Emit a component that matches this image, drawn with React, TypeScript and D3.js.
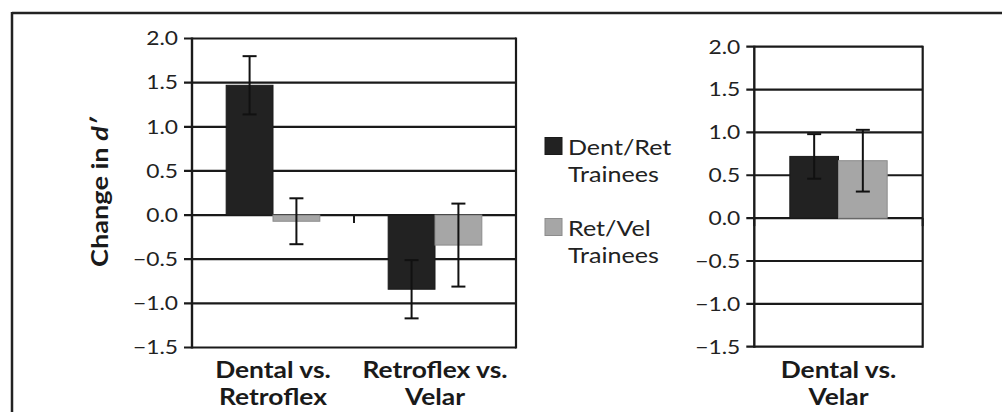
import React from "react";
import * as d3 from "d3";

// values (change in d')
const leftCategories = [["Dental vs.", "Retroflex"], ["Retroflex vs.", "Velar"]];
const rightCategories = [["Dental vs.", "Velar"]];
const seriesNames = [["Dent/Ret", "Trainees"], ["Ret/Vel", "Trainees"]];
const dentRetMeans = [1.47, -0.84, 0.72];
const dentRetErrors = [0.33, 0.33, 0.26];
const retVelMeans = [-0.07, -0.34, 0.67];
const retVelErrors = [0.26, 0.47, 0.36];
const yTicks = [-1.5, -1.0, -0.5, 0.0, 0.5, 1.0, 1.5, 2.0];

const W = 1002;
const H = 412;
const FONT = "Lato, 'Open Sans', sans-serif";
const colors = ["#222222", "#a6a6a6"];
const strokes = ["#1a1a1a", "#8c8c8c"];
const fmt = d3.format(".1f");

// the source figure is a bit wider than tall, so text gets stretched sideways
const stretch = (ax: number, s: number) => `translate(${ax},0) scale(${s},1) translate(${-ax},0)`;

type PanelProps = {
  cats: string[][];
  offset: number;
  x0: number;
  x1: number;
  yTop: number;
  yBottom: number;
};

function Panel({ cats, offset, x0, x1, yTop, yBottom }: PanelProps) {
  const keys = cats.map((c) => c.join(" "));
  const y = d3.scaleLinear().domain([-1.5, 2.0]).range([yBottom, yTop]);
  const x = d3.scaleBand().domain(keys).range([x0, x1]).padding(0);
  const xs = d3.scaleBand().domain(["a", "b"]).range([0, x.bandwidth()]).paddingInner(0).paddingOuter(0.73);
  const y0 = y(0);
  const lx = x0 - 14;

  const bars = keys.flatMap((k, i) => [
    { k, s: "a", si: 0, v: dentRetMeans[offset + i], e: dentRetErrors[offset + i] },
    { k, s: "b", si: 1, v: retVelMeans[offset + i], e: retVelErrors[offset + i] },
  ]);
  const bounds = keys.map((k) => x(k)!).concat([x1]);

  return (
    <g>
      {yTicks.map((t) => (
        <g key={t}>
          <line x1={x0 - 8} x2={x1} y1={y(t)} y2={y(t)} stroke="#1a1a1a" strokeWidth={2.2} />
          <text x={lx} y={y(t)} dy="0.36em" textAnchor="end" fontSize={19} fill="#222" fontFamily={FONT}
            transform={stretch(lx, 1.2)}>
            {fmt(t)}
          </text>
        </g>
      ))}
      {bars.map((b) => {
        const bx = x(b.k)! + xs(b.s)!;
        const bw = xs.bandwidth();
        return (
          <rect key={b.k + b.s} x={bx} width={bw} y={Math.min(y(b.v), y0)} height={Math.abs(y(b.v) - y0)}
            fill={colors[b.si]} stroke={strokes[b.si]} strokeWidth={1} />
        );
      })}
      {bounds.map((bx, i) => (
        <line key={"ct" + i} x1={bx} x2={bx} y1={y0} y2={y0 + 8} stroke="#1a1a1a" strokeWidth={2} />
      ))}
      <line x1={x0} x2={x0} y1={yTop - 1} y2={yBottom + 1} stroke="#1a1a1a" strokeWidth={2.4} />
      <line x1={x1} x2={x1} y1={yTop - 1} y2={yBottom + 1} stroke="#1a1a1a" strokeWidth={2.2} />
      {bars.map((b) => {
        const cx = x(b.k)! + xs(b.s)! + xs.bandwidth() / 2;
        const hi = y(b.v + b.e);
        const lo = y(b.v - b.e);
        return (
          <g key={"e" + b.k + b.s} stroke="#111" strokeWidth={2}>
            <line x1={cx} x2={cx} y1={hi} y2={lo} />
            <line x1={cx - 7} x2={cx + 7} y1={hi} y2={hi} />
            <line x1={cx - 7} x2={cx + 7} y1={lo} y2={lo} />
          </g>
        );
      })}
      {cats.map((c, i) => {
        const cx = x(keys[i])! + x.bandwidth() / 2;
        return c.map((line, j) => (
          <text key={"cl" + i + j} x={cx} y={378 + j * 27} textAnchor="middle" fontSize={22} fontWeight="bold"
            fill="#1a1a1a" fontFamily={FONT} transform={stretch(cx, 1.2)}>
            {line}
          </text>
        ));
      })}
    </g>
  );
}

export default function App() {
  return (
    <svg width={W} height={H} style={{ position: "absolute", left: 0, top: 0, background: "#fff" }}>
      <rect width={W} height={H} fill="#fff" />
      <line x1={12} x2={W} y1={13} y2={13} stroke="#222" strokeWidth={2.5} />
      <line x1={12} x2={12} y1={12} y2={H} stroke="#222" strokeWidth={2.5} />

      <text transform="translate(108,267) rotate(-90) scale(1.18,1)" textAnchor="start" fontSize={23}
        fontWeight="bold" fill="#1a1a1a" fontFamily={FONT}>
        Change in <tspan fontStyle="italic">d′</tspan>
      </text>

      <Panel cats={leftCategories} offset={0} x0={192} x1={516} yTop={38.5} yBottom={347.5} />
      <Panel cats={rightCategories} offset={2} x0={754.3} x1={922.7} yTop={46.7} yBottom={346.7} />

      {seriesNames.map((s, i) => {
        const top = 137.5 + i * 81;
        return (
          <g key={i}>
            <rect x={545} y={top} width={17} height={17} fill={colors[i]} stroke={strokes[i]} strokeWidth={1} />
            {s.map((line, j) => (
              <text key={j} x={568} y={top + 18 + j * 27} fontSize={22} fill="#222" fontFamily={FONT}
                transform={stretch(568, 1.14)}>
                {line}
              </text>
            ))}
          </g>
        );
      })}
    </svg>
  );
}
